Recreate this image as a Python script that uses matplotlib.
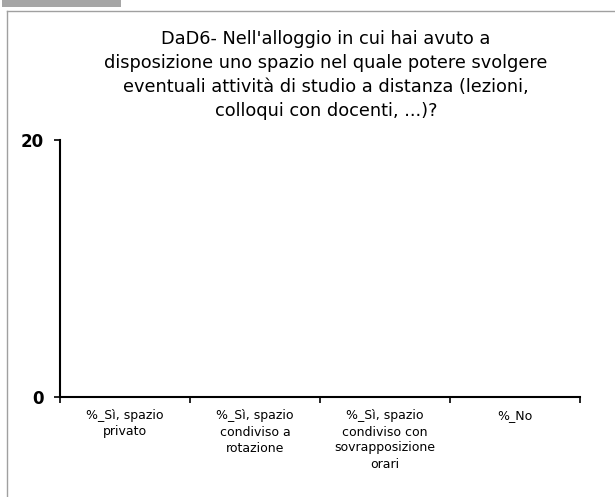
import matplotlib.pyplot as plt
from matplotlib.patches import Rectangle
from matplotlib.lines import Line2D

categorie = ["%_Sì, spazio\nprivato", "%_Sì, spazio\ncondiviso a\nrotazione",
             "%_Sì, spazio\ncondiviso con\nsovrapposizione\norari", "%_No"]
valori = [0, 0, 0, 0]
y_ticks = [0, 20]
titolo = ("DaD6- Nell'alloggio in cui hai avuto a\n"
          "disposizione uno spazio nel quale potere svolgere\n"
          "eventuali attività di studio a distanza (lezioni,\n"
          "colloqui con docenti, ...)?")

W, H = 615, 497
plt.rcParams['font.family'] = ['DejaVu Sans']
fig = plt.figure(figsize=(W / 100, H / 100), dpi=100)

# cornice e linguetta grigia
fig.patches.append(Rectangle((2 / W, 1 - 7 / H), 119 / W, 7 / H, transform=fig.transFigure,
                             facecolor="#a6a6a6", edgecolor="none"))
fig.lines.append(Line2D([6.5 / W, 6.5 / W], [0, 1 - 10.5 / H], transform=fig.transFigure,
                        color="#a0a0a0", linewidth=1))
fig.lines.append(Line2D([6.5 / W, 1], [1 - 10.5 / H, 1 - 10.5 / H], transform=fig.transFigure,
                        color="#a0a0a0", linewidth=1))

ax = fig.add_axes([60 / W, 100 / H, 520 / W, 257 / H])
x = range(len(categorie))
ax.bar(x, valori, width=0.6, color="#4f81bd")
ax.set_xlim(-0.5, len(categorie) - 0.5)
ax.set_ylim(0, 20)
ax.set_yticks(y_ticks)
ax.set_yticklabels([str(v) for v in y_ticks], fontsize=12, fontweight="bold")
ax.set_xticks([i + 0.5 for i in range(-1, len(categorie))])
ax.set_xticklabels([])
ax.set_xticks(list(x), minor=True)
ax.set_xticklabels(categorie, minor=True, fontsize=9, linespacing=1.3, va="top")
ax.tick_params(axis="x", which="minor", length=0, pad=9)
ax.tick_params(axis="x", which="major", length=4, width=1.2, direction="out")
ax.tick_params(axis="y", length=4, width=1.2, direction="out", pad=8)
for s in ["top", "right"]:
    ax.spines[s].set_visible(False)
for s in ["left", "bottom"]:
    ax.spines[s].set_linewidth(1.5)

fig.text(326 / W, 1 - 30 / H, titolo, ha="center", va="top", fontsize=12.8, linespacing=1.42)

fig.savefig("out.png", dpi=100)
